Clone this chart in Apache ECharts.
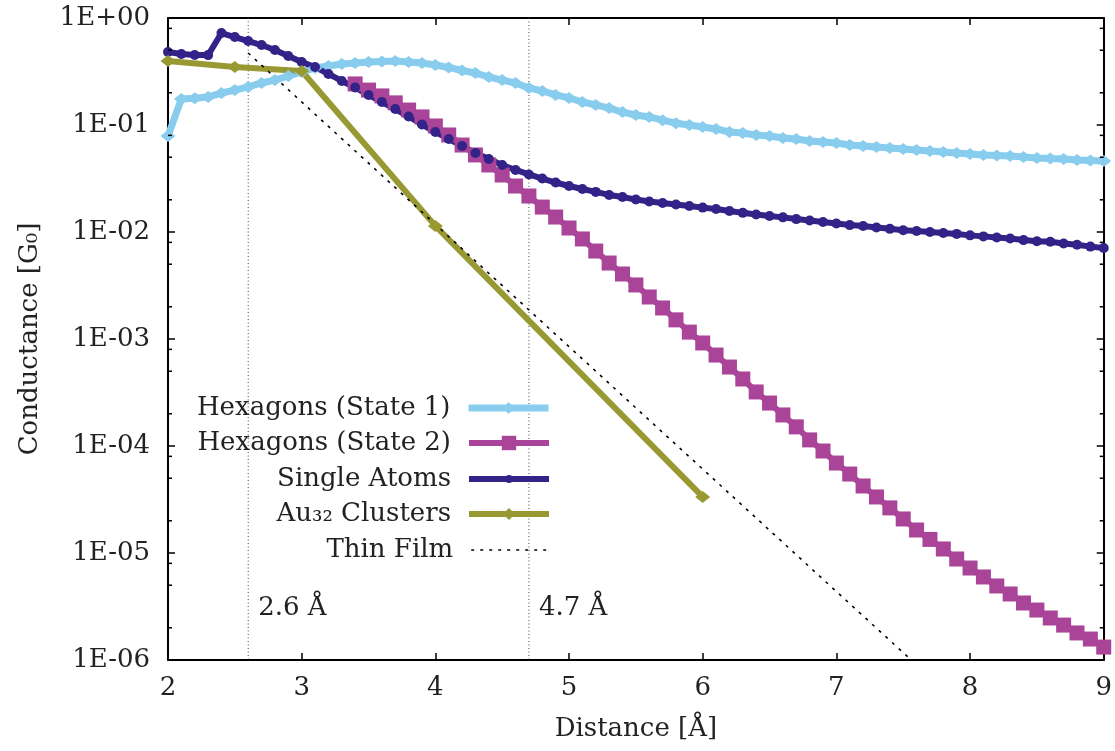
<!DOCTYPE html>
<html>
<head>
<meta charset="utf-8">
<script src="https://cdn.jsdelivr.net/npm/echarts@6/dist/echarts.min.js"></script>
<style>
html,body{margin:0;padding:0;background:#fff;}
#chart{width:1115px;height:751px;}
</style>
</head>
<body>
<div id="chart"></div>
<script>
// ---------- data ----------
const distance = [2.0,2.1,2.2,2.3,2.4,2.5,2.6,2.7,2.8,2.9,
  3.0,3.1,3.2,3.3,3.4,3.5,3.6,3.7,3.8,3.9,
  4.0,4.1,4.2,4.3,4.4,4.5,4.6,4.7,4.8,4.9,
  5.0,5.1,5.2,5.3,5.4,5.5,5.6,5.7,5.8,5.9,
  6.0,6.1,6.2,6.3,6.4,6.5,6.6,6.7,6.8,6.9,
  7.0,7.1,7.2,7.3,7.4,7.5,7.6,7.7,7.8,7.9,
  8.0,8.1,8.2,8.3,8.4,8.5,8.6,8.7,8.8,8.9,9.0];

const hexState1 = [0.079,0.175,0.178,0.183,0.199,0.212,0.227,0.247,0.263,0.287,
  0.313,0.341,0.356,0.372,0.380,0.388,0.392,0.396,0.388,0.380,
  0.364,0.345,0.323,0.306,0.281,0.263,0.247,0.222,0.208,0.191,
  0.179,0.164,0.154,0.144,0.132,0.124,0.119,0.111,0.104,0.100,
  0.0958,0.0918,0.0861,0.0842,0.0807,0.0789,0.0756,0.0740,0.0708,0.0693,
  0.0679,0.0650,0.0637,0.0623,0.0610,0.0597,0.0584,0.0571,0.0559,0.0547,
  0.0536,0.0525,0.0519,0.0513,0.0502,0.0492,0.0486,0.0481,0.0471,0.0466,0.0461];

const hexState2Distance = [3.4,3.5,3.6,3.7,3.8,3.9,
  4.0,4.1,4.2,4.3,4.4,4.5,4.6,4.7,4.8,4.9,
  5.0,5.1,5.2,5.3,5.4,5.5,5.6,5.7,5.8,5.9,
  6.0,6.1,6.2,6.3,6.4,6.5,6.6,6.7,6.8,6.9,
  7.0,7.1,7.2,7.3,7.4,7.5,7.6,7.7,7.8,7.9,
  8.0,8.1,8.2,8.3,8.4,8.5,8.6,8.7,8.8,8.9,9.0];
const hexState2 = [0.242,0.212,0.187,0.161,0.138,0.119,
  0.0979,0.0807,0.0650,0.0525,0.0423,0.0341,0.0269,0.0217,0.0171,0.0138,
  0.0109,0.00861,0.00664,0.00513,0.00405,0.00320,0.00247,0.00195,0.00151,0.00116,
  9.18e-4,7.08e-4,5.47e-4,4.23e-4,3.20e-4,2.52e-4,1.95e-4,1.51e-4,1.14e-4,8.98e-5,
  6.93e-5,5.47e-5,4.23e-5,3.34e-5,2.64e-5,2.08e-5,1.64e-5,1.34e-5,1.09e-5,8.79e-6,
  7.24e-6,5.97e-6,4.92e-6,4.14e-6,3.41e-6,2.93e-6,2.47e-6,2.12e-6,1.79e-6,1.57e-6,1.32e-6];

const singleAtoms = [0.481,0.461,0.451,0.450,0.724,0.664,0.609,0.559,0.502,0.442,
  0.388,0.348,0.300,0.258,0.224,0.191,0.164,0.141,0.120,0.101,
  0.0861,0.0740,0.0637,0.0547,0.0481,0.0423,0.0380,0.0345,0.0316,0.0290,
  0.0269,0.0252,0.0237,0.0222,0.0212,0.0201,0.0193,0.0187,0.0181,0.0175,
  0.0169,0.0164,0.0157,0.0151,0.0146,0.0141,0.0137,0.0132,0.0128,0.0124,
  0.0120,0.0116,0.0114,0.0110,0.0107,0.0104,0.0102,0.0100,0.0098,0.0096,
  0.0093,0.0091,0.0089,0.0087,0.0084,0.0082,0.0081,0.0078,0.0076,0.0073,0.0071];

const au32Distance = [2.0,2.5,3.0,4.0,6.0];
const au32 = [0.396,0.348,0.320,0.0114,3.34e-5];

const thinFilmDistance = [2.6,7.56];
const thinFilm = [0.471,1e-6];

const markerDistances = [2.6,4.7];
const markerLabels = ['2.6 Å','4.7 Å'];

const minorTickValues = [0.8,0.5,0.2,0.08,0.05,0.02,0.008,0.005,0.002,
  8e-4,5e-4,2e-4,8e-5,5e-5,2e-5,8e-6,5e-6,2e-6];

const seriesNames = ['Hexagons (State 1)','Hexagons (State 2)','Single Atoms','Au₃₂ Clusters','Thin Film'];
const xTickLabels = ['2','3','4','5','6','7','8','9'];

const X_MIN = 2, X_MAX = 9, Y_MIN = 1e-6, Y_MAX = 1;

// ---------- styles ----------
const FONT = 'DejaVu Serif';
const TXT = '#222';
const colors = ['#88CCEE','#AA4499','#332288','#999933','#000000'];
const lineWidths = [7,6,6,6,1.6];

function pairs(xs, ys){ return xs.map((x,i)=>[x, ys[i]]); }
function yFmt(v){
  const e = Math.round(Math.log10(v));
  return '1E' + (e >= 0 ? '+' : '-') + String(Math.abs(e)).padStart(2,'0');
}

const chart = echarts.init(document.getElementById('chart'), null, {renderer:'canvas'});

const axisLine = {show:true, onZero:false, lineStyle:{color:'#000', width:2}};
const tick = {show:true, inside:true, length:7, lineStyle:{color:'#000', width:1.5}};

const legendRows = [408,443,479,514,550];
const legendItemHeights = [15,18,10,15,0];
const legends = seriesNames.map((name,i)=>({
  data:[name],
  orient:'vertical',
  align:'right',
  right:563,
  top:legendRows[i]-15,
  padding:0,
  itemWidth:80,
  itemHeight:legendItemHeights[i],
  selectedMode:false,
  lineStyle:{width:lineWidths[i]},
  textStyle:{fontFamily:FONT, fontSize:26, color:TXT, lineHeight:30, padding:[0,13,0,0]}
}));

const option = {
  animation:false,
  backgroundColor:'#fff',
  textStyle:{fontFamily:FONT},
  legend: legends,
  grid:{left:168, right:7, top:18, bottom:91, containLabel:false},
  xAxis:[{
    type:'value', min:X_MIN, max:X_MAX, interval:1, position:'bottom',
    axisLine:axisLine, axisTick:tick, splitLine:{show:false},
    axisLabel:{fontFamily:FONT, fontSize:26, color:TXT, margin:15,
      formatter:(v)=>xTickLabels[Math.round(v - X_MIN)]},
    name:'Distance [Å]', nameLocation:'middle', nameGap:56,
    nameTextStyle:{fontFamily:FONT, fontSize:26, color:TXT}
  },{
    type:'value', min:X_MIN, max:X_MAX, interval:1, position:'top',
    axisLine:axisLine, axisTick:tick, splitLine:{show:false}, axisLabel:{show:false}
  }],
  yAxis:[{
    type:'log', logBase:10, min:Y_MIN, max:Y_MAX, splitNumber:6, position:'left',
    axisLine:axisLine, axisTick:tick, splitLine:{show:false},
    axisLabel:{fontFamily:FONT, fontSize:26, color:TXT, margin:18, formatter:yFmt},
    name:'Conductance [G₀]', nameLocation:'middle', nameGap:125, nameRotate:90,
    nameTextStyle:{fontFamily:FONT, fontSize:26, color:TXT}
  },{
    type:'log', logBase:10, min:Y_MIN, max:Y_MAX, splitNumber:6, position:'right',
    axisLine:axisLine, axisTick:tick, splitLine:{show:false}, axisLabel:{show:false}
  }],
  series:[
    {
      type:'custom', name:'markers', z:1, silent:true,
      data: markerDistances.map((x,i)=>[x, Y_MAX, i]),
      renderItem:(params, api)=>{
        const x = api.value(0);
        const idx = api.value(2);
        const top = api.coord([x, Y_MAX]);
        const bot = api.coord([x, Y_MIN]);
        return {type:'group', children:[
          {type:'line', shape:{x1:top[0], y1:top[1], x2:bot[0], y2:bot[1]},
           style:{stroke:'#444', lineWidth:1, lineDash:[1,2.5]}},
          {type:'text', x:top[0]+10, y:bot[1]-52,
           style:{text:markerLabels[idx], font:'26px "'+FONT+'"', fill:TXT,
             textAlign:'left', textVerticalAlign:'middle'}}
        ]};
      }
    },
    {
      type:'custom', name:'minorTicks', z:3, silent:true,
      data: minorTickValues.map(v=>[X_MIN, v]),
      renderItem:(params, api)=>{
        const p = api.coord([X_MIN, api.value(1)]);
        const cs = params.coordSys;
        return {type:'group', children:[
          {type:'line', shape:{x1:cs.x, y1:p[1], x2:cs.x+4, y2:p[1]}, style:{stroke:'#000', lineWidth:1.5}},
          {type:'line', shape:{x1:cs.x+cs.width-4, y1:p[1], x2:cs.x+cs.width, y2:p[1]}, style:{stroke:'#000', lineWidth:1.5}}
        ]};
      }
    },
    {
      name:seriesNames[0], type:'line', data:pairs(distance, hexState1),
      color:colors[0], lineStyle:{width:lineWidths[0], color:colors[0]},
      symbol:'diamond', symbolSize:[15,12], showAllSymbol:true,
      itemStyle:{color:colors[0]}, z:2
    },
    {
      name:seriesNames[1], type:'line', data:pairs(hexState2Distance, hexState2),
      color:colors[1], lineStyle:{width:lineWidths[1], color:colors[1]},
      symbol:'rect', symbolSize:15, showAllSymbol:true,
      itemStyle:{color:colors[1]}, z:2
    },
    {
      name:seriesNames[2], type:'line', data:pairs(distance, singleAtoms),
      color:colors[2], lineStyle:{width:lineWidths[2], color:colors[2]},
      symbol:'circle', symbolSize:10, showAllSymbol:true,
      itemStyle:{color:colors[2]}, z:2
    },
    {
      name:seriesNames[3], type:'line', data:pairs(au32Distance, au32),
      color:colors[3], lineStyle:{width:lineWidths[3], color:colors[3]},
      symbol:'diamond', symbolSize:[15,12], showAllSymbol:true,
      itemStyle:{color:colors[3]}, z:2
    },
    {
      name:seriesNames[4], type:'line', data:pairs(thinFilmDistance, thinFilm),
      color:colors[4], lineStyle:{width:lineWidths[4], color:colors[4], type:[3,6]},
      symbol:'none', z:2
    }
  ]
};
chart.setOption(option);
</script>
</body>
</html>
